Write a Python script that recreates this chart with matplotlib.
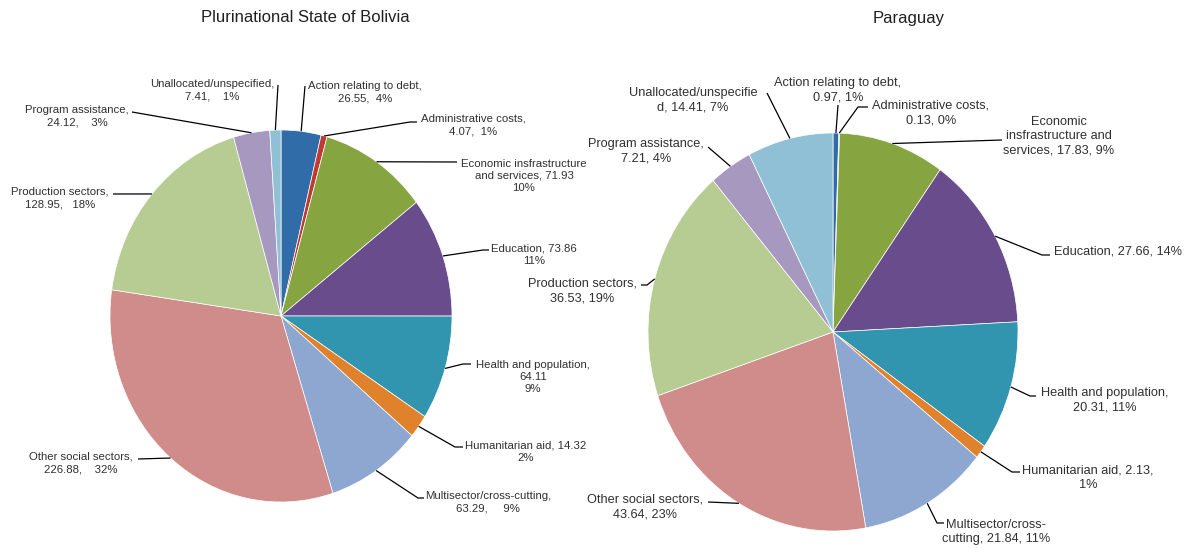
import numpy as np
import matplotlib.pyplot as plt

# ODA by sector, two recipient countries
sectors = ["Action relating to debt", "Administrative costs",
           "Economic infrastructure and services", "Education",
           "Health and population", "Humanitarian aid",
           "Multisector/cross-cutting", "Other social sectors",
           "Production sectors", "Program assistance",
           "Unallocated/unspecified"]
colors = ["#2F6CA8", "#BE3A35", "#86A440", "#694C8B", "#3195AF", "#E0812C",
          "#8EA7D0", "#CF8C8A", "#B7CC93", "#A698BE", "#8FC0D5"]

bolivia_values = [26.55, 4.07, 71.93, 73.86, 64.11, 14.32, 63.29, 226.88, 128.95, 24.12, 7.41]
bolivia_pct = [4, 1, 10, 11, 9, 2, 9, 32, 18, 3, 1]
bolivia_fmt = ["Action relating to debt,\n{v},  {p}%",
               "Administrative costs,\n{v},  {p}%",
               "Economic insfrastructure\nand services, {v}\n{p}%",
               "Education, {v}\n{p}%",
               "Health and population,\n{v}\n{p}%",
               "Humanitarian aid, {v}\n{p}%",
               "Multisector/cross-cutting,\n{v},     {p}%",
               "Other social sectors,\n{v},    {p}%",
               "Production sectors,\n{v},   {p}%",
               "Program assistance,\n{v},    {p}%",
               "Unallocated/unspecified,\n{v},    {p}%"]

paraguay_values = [0.97, 0.13, 17.83, 27.66, 20.31, 2.13, 21.84, 43.64, 36.53, 7.21, 14.41]
paraguay_pct = [1, 0, 9, 14, 11, 1, 11, 23, 19, 4, 7]
paraguay_fmt = ["Action relating to debt,\n{v}, {p}%",
                "Administrative costs,\n{v}, {p}%",
                "Economic\ninsfrastructure and\nservices, {v}, {p}%",
                "Education, {v}, {p}%",
                "Health and population,\n{v}, {p}%",
                "Humanitarian aid, {v},\n{p}%",
                "Multisector/cross-\ncutting, {v}, {p}%",
                "Other social sectors,\n{v}, {p}%",
                "Production sectors,\n{v}, {p}%",
                "Program assistance,\n{v}, {p}%",
                "Unallocated/unspecifie\nd, {v}, {p}%"]

W, H = 1187, 548
TXT = "#303030"
plt.rcParams['font.family'] = ['Liberation Sans', 'DejaVu Sans']

fig = plt.figure(figsize=(W / 100, H / 100), dpi=100)
# overlay in pixel coords for labels / leader lines
over = fig.add_axes([0, 0, 1, 1], zorder=5)
over.set_xlim(0, W)
over.set_ylim(H, 0)
over.axis('off')


def draw_pie(cx, cy, rx, ry, values, pct, fmt, text_xy, paths, fsize, lsp, title, title_x):
    ax = fig.add_axes([(cx - rx) / W, (H - cy - ry) / H, 2 * rx / W, 2 * ry / H])
    wedges, _ = ax.pie(values, colors=colors, startangle=90, counterclock=False,
                       radius=1, wedgeprops=dict(edgecolor='white', linewidth=0.5))
    ax.set_xlim(-1, 1)
    ax.set_ylim(-1, 1)
    ax.set_aspect('auto')   # slightly stretched pies
    ax.axis('off')
    inv = over.transData.inverted()
    for w, v, p, f, (tx, ty), pts in zip(wedges, values, pct, fmt, text_xy, paths):
        th = np.deg2rad((w.theta1 + w.theta2) / 2)
        edge = inv.transform(ax.transData.transform((np.cos(th), np.sin(th))))
        xs = [edge[0]] + [q[0] for q in pts]
        ys = [edge[1]] + [q[1] for q in pts]
        over.plot(xs, ys, color='black', lw=0.9, solid_capstyle='butt')
        over.text(tx, ty, f.format(v=f"{v:.2f}", p=p), ha='center', va='center',
                  fontsize=fsize, color=TXT, linespacing=lsp)
    over.text(title_x, 18, title, ha='center', va='center', fontsize=12, color='#202020')


bolivia_text = [(365, 92), (473, 125), (524, 176), (534, 255), (533, 377), (526, 452),
                (488, 502), (81, 463), (60, 198), (77, 116), (212, 90)]
bolivia_paths = [[(305, 86)], [(410, 122), (417, 122)], [(457, 162)],
                 [(483, 250), (489, 250)], [(463, 364), (471, 364)],
                 [(455, 447), (463, 447)], [(418, 498), (424, 498)],
                 [(138, 459)], [(113, 194)], [(132, 112)], [(278, 85)]]

paraguay_text = [(838, 90), (931, 113), (1059, 136), (1118, 252), (1105, 400), (1088, 478),
                 (996, 532), (645, 507), (582, 291), (646, 151), (693, 100)]
paraguay_paths = [[(838, 105)], [(858, 107), (868, 107)], [(1002, 140)],
                  [(1042, 255), (1050, 255)], [(1030, 396), (1036, 396)],
                  [(1012, 472), (1020, 472)], [(937, 523), (944, 523)],
                  [(708, 502)], [(647, 285), (641, 285)], [(708, 147)], [(767, 93)]]

draw_pie(281, 316, 171, 186, bolivia_values, bolivia_pct, bolivia_fmt,
         bolivia_text, bolivia_paths, 8.2, 1.3, "Plurinational State of Bolivia", 305)
draw_pie(833, 332, 185, 199, paraguay_values, paraguay_pct, paraguay_fmt,
         paraguay_text, paraguay_paths, 9.2, 1.25, "Paraguay", 909)

fig.savefig("out.png", dpi=100, facecolor='white')
